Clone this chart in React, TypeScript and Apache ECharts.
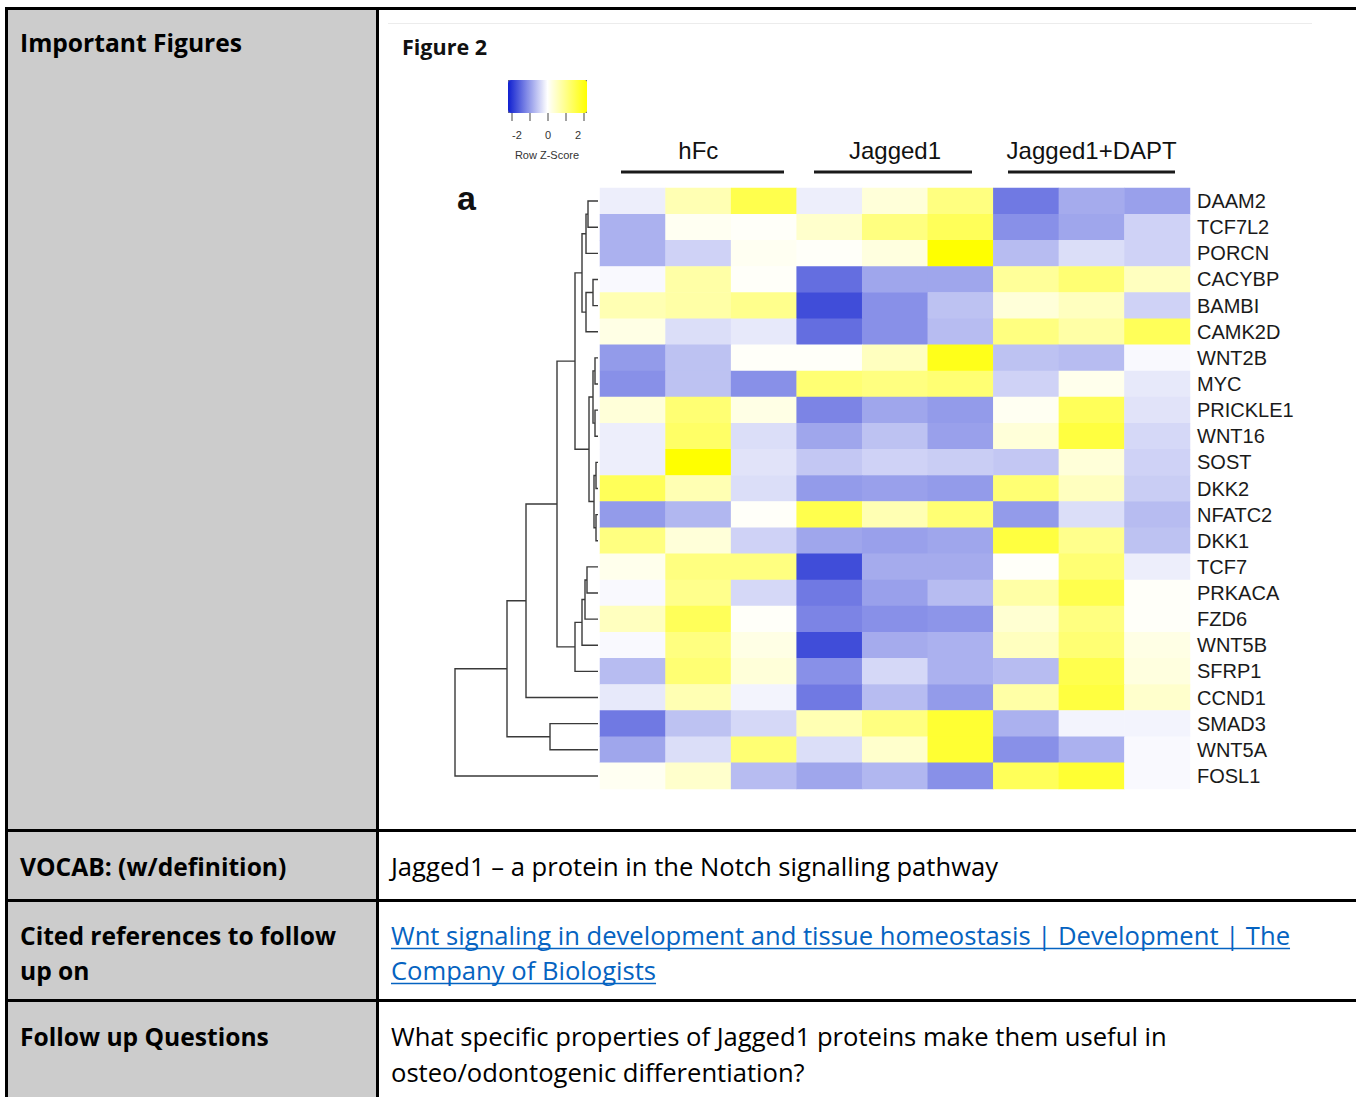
import React, { useEffect, useRef } from 'react';
import * as echarts from 'echarts';

// ---- data ----
const genes = ['DAAM2', 'TCF7L2', 'PORCN', 'CACYBP', 'BAMBI', 'CAMK2D', 'WNT2B', 'MYC', 'PRICKLE1', 'WNT16', 'SOST', 'DKK2', 'NFATC2', 'DKK1', 'TCF7', 'PRKACA', 'FZD6', 'WNT5B', 'SFRP1', 'CCND1', 'SMAD3', 'WNT5A', 'FOSL1'];
const samples = ['hFc-1', 'hFc-2', 'hFc-3', 'Jagged1-1', 'Jagged1-2', 'Jagged1-3', 'Jagged1+DAPT-1', 'Jagged1+DAPT-2', 'Jagged1+DAPT-3'];
const groups = ['hFc', 'Jagged1', 'Jagged1+DAPT'];

// row z-scores, one row per gene, three replicates per group
const hFcScores = [
  [-0.15, 0.6, 1.4], [-0.7, 0.1, 0.05], [-0.7, -0.4, 0.1], [-0.05, 0.7, 0.05], [0.6, 0.7, 0.9],
  [0.2, -0.3, -0.2], [-0.9, -0.55, 0.05], [-1.0, -0.55, -1.0], [0.3, 1.1, 0.2], [-0.15, 1.2, -0.3],
  [-0.15, 2.0, -0.25], [1.3, 0.6, -0.3], [-0.9, -0.65, 0.05], [1.0, 0.3, -0.4], [0.15, 1.0, 1.0],
  [-0.05, 0.9, -0.35], [0.5, 1.3, 0.05], [-0.05, 1.0, 0.2], [-0.6, 1.1, 0.3], [-0.2, 0.6, -0.1],
  [-1.2, -0.55, -0.35], [-0.8, -0.3, 1.1], [0.1, 0.4, -0.6],
];
const jagged1Scores = [
  [-0.15, 0.3, 1.0], [0.4, 1.0, 1.3], [0.05, 0.25, 2.0], [-1.3, -0.8, -0.8], [-1.6, -1.0, -0.55],
  [-1.3, -1.0, -0.6], [0.05, 0.5, 1.8], [1.1, 1.0, 1.1], [-1.1, -0.8, -0.9], [-0.8, -0.55, -0.85],
  [-0.5, -0.4, -0.45], [-0.9, -0.85, -0.9], [1.4, 0.6, 1.1], [-0.8, -0.85, -0.8], [-1.6, -0.75, -0.75],
  [-1.2, -0.85, -0.6], [-1.1, -1.0, -0.95], [-1.6, -0.75, -0.7], [-1.0, -0.35, -0.7], [-1.2, -0.6, -0.9],
  [0.6, 1.0, 1.6], [-0.3, 0.4, 1.6], [-0.8, -0.65, -1.0],
];
const daptScores = [
  [-1.2, -0.75, -0.85], [-1.0, -0.8, -0.4], [-0.6, -0.3, -0.4], [0.8, 1.1, 0.5], [0.3, 0.5, -0.4],
  [1.0, 0.7, 1.3], [-0.55, -0.6, -0.05], [-0.4, 0.15, -0.2], [0.1, 1.3, -0.25], [0.3, 1.5, -0.35],
  [-0.5, 0.3, -0.4], [1.1, 0.5, -0.45], [-0.9, -0.3, -0.6], [1.5, 0.9, -0.55], [0.05, 1.1, -0.15],
  [0.7, 1.4, 0.05], [0.35, 1.0, 0.05], [0.5, 1.1, 0.2], [-0.6, 1.4, 0.25], [0.7, 1.5, 0.4],
  [-0.7, -0.1, -0.1], [-1.0, -0.7, -0.05], [1.3, 1.6, -0.05],
];

// row dendrogram: merge i joins node dendroLeft[i] and dendroRight[i] at dendroHeight[i]
// nodes 0..22 are the genes, node 23+i is the result of merge i
const dendroLeft = [0, 23, 3, 25, 24, 6, 8, 28, 10, 12, 31, 30, 27, 14, 36, 37, 38, 35, 40, 20, 41, 43];
const dendroRight = [1, 2, 4, 5, 26, 7, 9, 29, 11, 13, 32, 33, 34, 15, 16, 17, 18, 39, 19, 21, 42, 22];
const dendroHeight = [10, 12, 5, 12, 16, 3, 3, 5, 2, 2, 4, 9, 23, 11, 13, 16, 23, 41, 72, 48, 91, 143];

const keyTicks = ['-2', '0', '2'];

const SANS = '"Open Sans", "Noto Sans", sans-serif';
const ARIAL = '"Liberation Sans", Arial, sans-serif';

function measure(text: string, font: string): number {
  const c = document.createElement('canvas').getContext('2d');
  if (!c) return text.length * 12;
  c.font = font;
  return c.measureText(text).width;
}

export default function App() {
  const ref = useRef<HTMLDivElement>(null);

  useEffect(() => {
    if (!ref.current) return;
    const chart = echarts.init(ref.current, undefined, { renderer: 'svg' });

    const heatData: number[][] = [];
    genes.forEach((_, gi) => {
      const row = [...hFcScores[gi], ...jagged1Scores[gi], ...daptScores[gi]];
      row.forEach((v, si) => heatData.push([si, gi, v]));
    });

    // dendrogram nodes
    const nodeY: number[] = genes.map((_, i) => i);
    const nodeH: number[] = genes.map(() => 0);
    const dendroData: number[][] = [];
    dendroLeft.forEach((a, i) => {
      const b = dendroRight[i];
      const h = dendroHeight[i];
      dendroData.push([h, nodeY[a], nodeY[b], nodeH[a], nodeH[b]]);
      nodeY.push((nodeY[a] + nodeY[b]) / 2);
      nodeH.push(h);
    });

    const bodyFont = `25.6px ${SANS}`;
    const headFont = `bold 24.6px ${SANS}`;
    const link1 = 'Wnt signaling in development and tissue homeostasis | Development | The';
    const link2 = 'Company of Biologists';
    const w1 = measure(link1, bodyFont);
    const w2 = measure(link2, bodyFont);

    const txt = (text: string, x: number, y: number, font: string, fill = '#000', align = 'left') => ({
      type: 'text', x, y, silent: true,
      style: { text, font, fill, align, verticalAlign: 'middle' },
    });

    const option: any = {
      animation: false,
      backgroundColor: '#ffffff',
      grid: [
        { left: 600, top: 188, width: 590, height: 601 },
        { left: 455, top: 188, width: 143, height: 601 },
      ],
      xAxis: [
        { type: 'category', data: samples, gridIndex: 0, show: false },
        {
          type: 'category', data: groups, gridIndex: 0, position: 'top',
          axisLine: { show: false }, axisTick: { show: false }, splitLine: { show: false },
          axisLabel: { interval: 0, fontSize: 24, color: '#111', fontFamily: ARIAL, margin: 38, verticalAlign: 'middle' },
        },
        { type: 'value', gridIndex: 1, min: 0, max: 143, inverse: true, show: false },
      ],
      yAxis: [
        {
          type: 'category', data: genes, gridIndex: 0, inverse: true, position: 'right',
          axisLine: { show: false }, axisTick: { show: false }, splitLine: { show: false },
          axisLabel: { interval: 0, fontSize: 20, color: '#1a1a1a', fontFamily: ARIAL, margin: 7 },
        },
        { type: 'value', gridIndex: 1, min: -0.5, max: 22.5, inverse: true, show: false },
      ],
      visualMap: {
        type: 'continuous', min: -2, max: 2, orient: 'horizontal', left: 508, top: 80,
        itemWidth: 33, itemHeight: 79, calculable: false, text: null, showLabel: false,
        padding: 0, seriesIndex: 0, hoverLink: false,
        inRange: { color: ['#1020d0', '#ffffff', '#ffff00'] },
      },
      series: [
        { type: 'heatmap', xAxisIndex: 0, yAxisIndex: 0, data: heatData, itemStyle: { borderWidth: 0 } },
        {
          type: 'custom', xAxisIndex: 2, yAxisIndex: 1, data: dendroData, silent: true,
          encode: { x: [0, 3, 4], y: [1, 2] },
          renderItem: (_p: any, api: any) => {
            const h = api.value(0), ya = api.value(1), yb = api.value(2), ha = api.value(3), hb = api.value(4);
            const pts = [api.coord([ha, ya]), api.coord([h, ya]), api.coord([h, yb]), api.coord([hb, yb])];
            return { type: 'polyline', shape: { points: pts }, style: { stroke: '#3a3a3a', lineWidth: 1.4, fill: 'none' } };
          },
        },
      ],
      graphic: [
        // table
        { type: 'rect', shape: { x: 8, y: 10, width: 368, height: 1087 }, style: { fill: '#cccccc' } },
        { type: 'rect', shape: { x: 5, y: 7, width: 1351, height: 3 }, style: { fill: '#000' } },
        { type: 'rect', shape: { x: 5, y: 7, width: 3, height: 1090 }, style: { fill: '#000' } },
        { type: 'rect', shape: { x: 376, y: 7, width: 3, height: 1090 }, style: { fill: '#000' } },
        { type: 'rect', shape: { x: 5, y: 829, width: 1351, height: 3 }, style: { fill: '#000' } },
        { type: 'rect', shape: { x: 5, y: 899, width: 1351, height: 3 }, style: { fill: '#000' } },
        { type: 'rect', shape: { x: 5, y: 999, width: 1351, height: 3 }, style: { fill: '#000' } },
        { type: 'line', shape: { x1: 388, y1: 23.5, x2: 1312, y2: 23.5 }, style: { stroke: '#ececec', lineWidth: 1 } },
        txt('Important Figures', 20, 42, headFont),
        txt('VOCAB: (w/definition)', 20, 866, headFont),
        txt('Cited references to follow', 20, 935, headFont),
        txt('up on', 20, 970, headFont),
        txt('Follow up Questions', 20, 1036, headFont),
        txt('Jagged1 – a protein in the Notch signalling pathway', 391, 866, bodyFont),
        txt(link1, 391, 935, bodyFont, '#0563c1'),
        txt(link2, 391, 970, bodyFont, '#0563c1'),
        { type: 'line', shape: { x1: 391, y1: 948.5, x2: 391 + w1, y2: 948.5 }, style: { stroke: '#0563c1', lineWidth: 1.5 } },
        { type: 'line', shape: { x1: 391, y1: 983.5, x2: 391 + w2, y2: 983.5 }, style: { stroke: '#0563c1', lineWidth: 1.5 } },
        txt('What specific properties of Jagged1 proteins make them useful in', 391, 1036, bodyFont),
        txt('osteo/odontogenic differentiation?', 391, 1072, bodyFont),
        // figure annotations
        txt('Figure 2', 402, 46, `bold 21.5px ${SANS}`, '#111'),
        txt('a', 457, 198, `bold 34px ${ARIAL}`, '#111'),
        { type: 'line', shape: { x1: 621, y1: 172, x2: 784, y2: 172 }, style: { stroke: '#1a1a1a', lineWidth: 3 } },
        { type: 'line', shape: { x1: 814, y1: 172, x2: 972, y2: 172 }, style: { stroke: '#1a1a1a', lineWidth: 3 } },
        { type: 'line', shape: { x1: 1008, y1: 172, x2: 1175, y2: 172 }, style: { stroke: '#1a1a1a', lineWidth: 3 } },
        { type: 'rect', shape: { x: 508.5, y: 80.5, width: 78, height: 32 }, style: { fill: 'none', stroke: '#333', lineWidth: 1 } },
        ...[512, 530, 548, 566, 584].map((x) => ({ type: 'line', shape: { x1: x, y1: 113, x2: x, y2: 121 }, style: { stroke: '#444', lineWidth: 1 } })),
        ...keyTicks.map((t, i) => txt(t, [517, 548, 578][i], 135, `11px ${ARIAL}`, '#333', 'center')),
        txt('Row Z-Score', 547, 155, `11px ${ARIAL}`, '#333', 'center'),
      ],
    };

    chart.setOption(option);
    return () => chart.dispose();
  }, []);

  return <div ref={ref} style={{ position: 'absolute', left: 0, top: 0, width: 1356, height: 1097 }} />;
}
